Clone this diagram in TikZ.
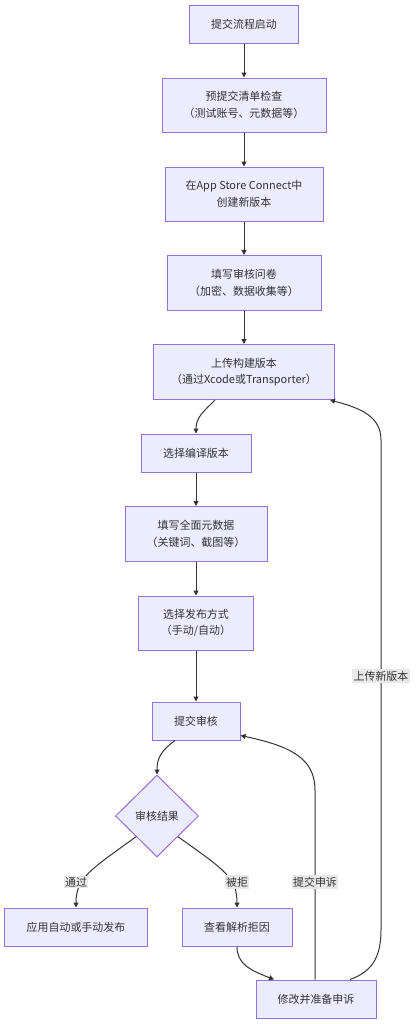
\documentclass[tikz,border=0pt]{standalone}
\usepackage{fontspec}
\setmainfont{Noto Sans CJK SC}
\usetikzlibrary{arrows.meta,shapes.geometric}
\definecolor{boxfill}{HTML}{ECECFF}
\definecolor{boxline}{HTML}{9370DB}
\definecolor{edgeline}{HTML}{333333}
\definecolor{lblfill}{HTML}{E8E8E8}
\begin{document}
\begin{tikzpicture}[x=1bp,y=-1bp,
    box/.style={draw=boxline,fill=boxfill,line width=1bp,inner sep=0pt,align=center,
      text=edgeline,font=\fontsize{11}{16.5}\selectfont},
    choice/.style={diamond,draw=boxline,fill=boxfill,line width=1bp,inner sep=0pt,
      minimum width=83bp,minimum height=82bp,text=edgeline,font=\fontsize{11}{16.5}\selectfont},
    flow/.style={draw=edgeline,line width=1bp,-{Triangle[length=5bp,width=5bp]}},
    lbl/.style={fill=lblfill,inner sep=1.5bp,text=edgeline,font=\fontsize{11}{14}\selectfont}]
      \useasboundingbox (0,0) rectangle (415,1024);
      \node[box,minimum width=109bp,minimum height=38bp] (start) at (244,24) {提交流程启动};
      \node[box,minimum width=164bp,minimum height=54bp] (check) at (244,105) {预提交清单检查\\（测试账号、元数据等）};
      \node[box,minimum width=158bp,minimum height=54bp] (create) at (244,194) {在App Store Connect中\\创建新版本};
      \node[box,minimum width=154bp,minimum height=55bp] (quest) at (244,283) {填写审核问卷\\（加密、数据收集等）};
      \node[box,minimum width=181bp,minimum height=55bp] (upload) at (244,372) {上传构建版本\\（通过Xcode或Transporter）};
      \node[box,minimum width=110bp,minimum height=38bp] (build) at (196,453) {选择编译版本};
      \node[box,minimum width=142bp,minimum height=55bp] (meta) at (196,534) {填写全面元数据\\（关键词、截图等）};
      \node[box,minimum width=115bp,minimum height=54bp] (release) at (196,623) {选择发布方式\\（手动/自动）};
      \node[box,minimum width=88bp,minimum height=38bp] (submit) at (196,721) {提交审核};
      \node[choice] (result) at (157,816) {审核结果};
      \node[box,minimum width=143bp,minimum height=38bp] (publish) at (76,927) {应用自动或手动发布};
      \node[box,minimum width=110bp,minimum height=38bp] (reason) at (237,927) {查看解析拒因};
      \node[box,minimum width=120bp,minimum height=38bp] (appeal) at (316,999) {修改并准备申诉};
      \draw[flow] (start) -- (check);
      \draw[flow] (check) -- (create);
      \draw[flow] (create) -- (quest);
      \draw[flow] (quest) -- (upload);
      \draw[flow] ([xshift=-29bp]upload.south) .. controls +(-12,12) and +(0,-16) .. (build.north);
      \draw[flow] (build) -- (meta);
      \draw[flow] (meta) -- (release);
      \draw[flow] (release) -- (submit);
      \draw[flow] ([xshift=-21bp]submit.south) .. controls +(-14,10) and +(0,-16) .. (result.north);
      \draw[flow] (result.south west) .. controls (90,870) and (76,878) .. (publish.north);
      \draw[flow] (result.south east) .. controls (225,870) and (237,878) .. (reason.north);
      \draw[flow] (reason.south) .. controls (237,964) and (250,970) .. ([xshift=-42bp]appeal.north);
      \draw[flow] ([xshift=-1bp]appeal.north) -- (315,790) .. controls (315,758) and (290,746) .. ([yshift=5bp]submit.south east);
      \draw[flow] ([xshift=34bp]appeal.north) .. controls (370,972) and (381,960) .. (381,930)
        -- (381,440) .. controls (381,416) and (360,408) .. ([xshift=-5bp]upload.south east);
      \node[lbl] (pass) at (76,882) {通过};
      \node[lbl] (reject) at (237,882) {被拒};
      \node[lbl] (resub) at (315,882) {提交申诉};
      \node[lbl] (newver) at (381,676) {上传新版本};
    \end{tikzpicture}
\end{document}
